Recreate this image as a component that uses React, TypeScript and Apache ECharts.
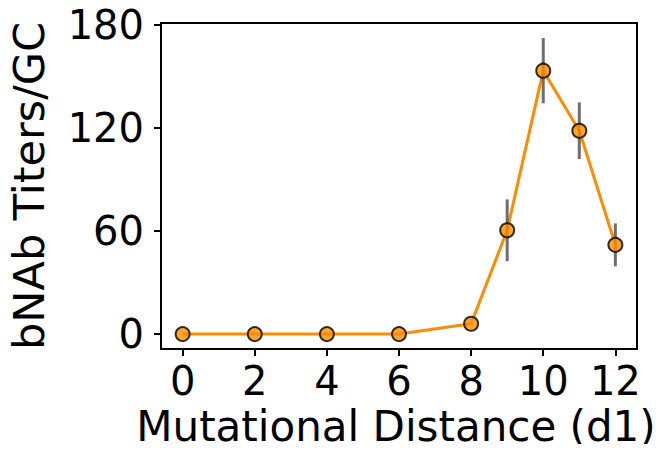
import React, { useEffect, useRef } from "react";
import * as echarts from "echarts";

const distances = [0, 2, 4, 6, 8, 9, 10, 11, 12];
const titers = [0, 0, 0, 0, 6, 60.5, 153.5, 118.5, 52];
const titerErrors = [0, 0, 0, 0, 0, 18, 19, 16.5, 12.5];
const xTicks = [0, 2, 4, 6, 8, 10, 12];
const yTicks = [0, 60, 120, 180];

const FONT = "DejaVu Sans";

export default function App() {
  const ref = useRef<HTMLDivElement>(null);

  useEffect(() => {
    if (!ref.current) return;
    const chart = echarts.init(ref.current, undefined, { renderer: "svg" });

    const points = distances.map((d, i) => [d, titers[i]]);
    const bars = distances
      .map((d, i) => [d, titers[i] - titerErrors[i], titers[i] + titerErrors[i]])
      .filter((_, i) => titerErrors[i] > 0);

    chart.setOption({
      animation: false,
      backgroundColor: "#ffffff",
      grid: {
        left: 161,
        right: 27,
        top: 23,
        bottom: 103,
        outerBoundsMode: "none",
        containLabel: false,
        show: true,
        borderColor: "#000000",
        borderWidth: 2,
        backgroundColor: "transparent",
      },
      xAxis: {
        type: "value",
        min: -0.6,
        max: 12.6,
        name: "Mutational Distance (d1)",
        nameLocation: "middle",
        nameGap: 56,
        nameTextStyle: { fontFamily: FONT, fontSize: 42, color: "#000", padding: [0, 0, 0, -6] },
        axisLine: { show: true, onZero: false, lineStyle: { color: "#000", width: 2 } },
        axisTick: {
          show: true,
          length: 7,
          customValues: xTicks,
          lineStyle: { color: "#000", width: 2 },
        },
        axisLabel: {
          customValues: xTicks,
          fontFamily: FONT,
          fontSize: 40,
          color: "#000",
          margin: 12,
        },
        splitLine: { show: false },
      },
      yAxis: {
        type: "value",
        min: -8.7,
        max: 181.3,
        name: "bNAb Titers/GC",
        nameLocation: "middle",
        nameGap: 111,
        nameRotate: 90,
        nameTextStyle: { fontFamily: FONT, fontSize: 43, color: "#000" },
        axisLine: { show: true, onZero: false, lineStyle: { color: "#000", width: 2 } },
        axisTick: {
          show: true,
          length: 7,
          customValues: yTicks,
          lineStyle: { color: "#000", width: 2 },
        },
        axisLabel: {
          customValues: yTicks,
          fontFamily: FONT,
          fontSize: 40,
          color: "#000",
          margin: 17,
        },
        splitLine: { show: false },
      },
      series: [
        {
          type: "line",
          data: points,
          z: 2,
          lineStyle: { color: "#ff8c00", width: 3 },
          symbol: "none",
        },
        {
          type: "custom",
          data: bars,
          z: 3,
          renderItem: (params: any, api: any) => {
            const x = api.value(0);
            const lo = api.coord([x, api.value(1)]);
            const hi = api.coord([x, api.value(2)]);
            return {
              type: "line",
              shape: { x1: lo[0], y1: lo[1], x2: hi[0], y2: hi[1] },
              style: { stroke: "#555555", lineWidth: 3, opacity: 0.85 },
            };
          },
        },
        {
          type: "scatter",
          data: points,
          z: 4,
          symbol: "circle",
          symbolSize: 14,
          itemStyle: { color: "#ff8c00", borderColor: "#000000", borderWidth: 2 },
        },
      ],
    });

    return () => chart.dispose();
  }, []);

  return <div ref={ref} style={{ width: 664, height: 452, margin: -8 }} />;
}
